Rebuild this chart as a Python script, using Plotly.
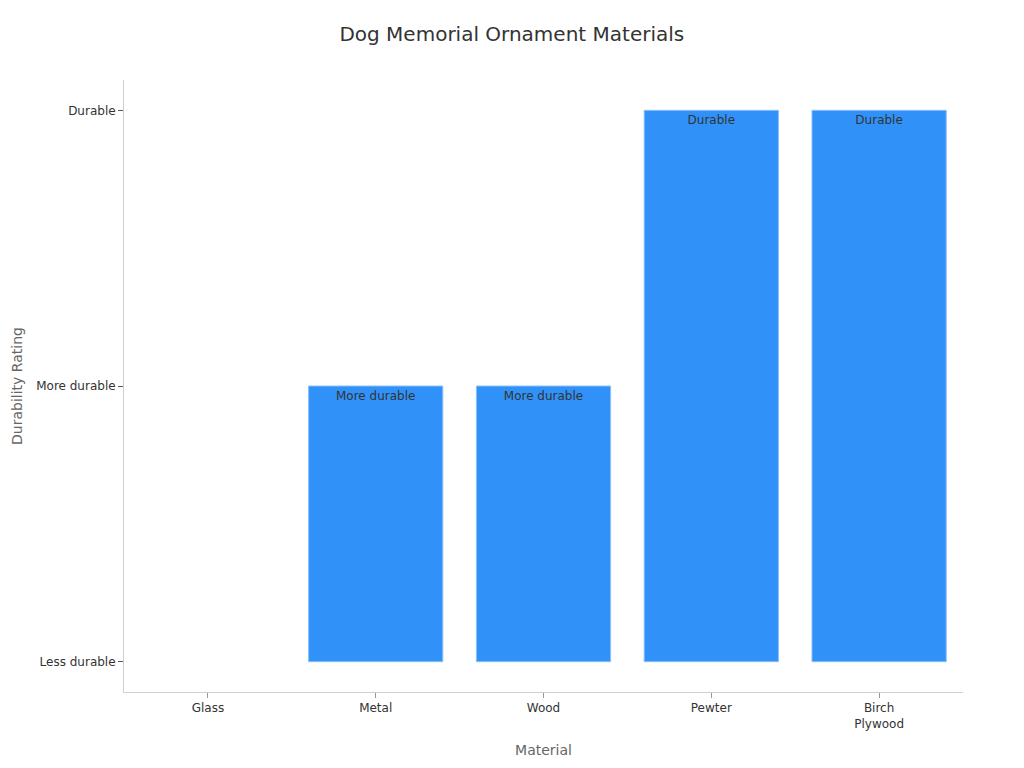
import plotly.graph_objects as go

materials = ["Glass", "Metal", "Wood", "Pewter", "Birch<br>Plywood"]
ratings = [0, 1, 1, 2, 2]
rating_labels = ["Less durable", "More durable", "More durable", "Durable", "Durable"]
tick_vals = [0, 1, 2]
tick_text = ["Less durable", "More durable", "Durable"]

bar_text = [t if v > 0 else "" for t, v in zip(rating_labels, ratings)]
line_widths = [1 if v > 0 else 0 for v in ratings]

fig = go.Figure(go.Bar(
    x=materials,
    y=ratings,
    base=0,
    text=bar_text,
    textposition="inside",
    insidetextanchor="end",
    textfont=dict(color="#333333", size=12),
    marker=dict(color="#3092F8", line=dict(color="#8cc0f7", width=line_widths)),
    width=0.8,
))

fig.update_layout(
    width=1024, height=768,
    template="plotly_white",
    font=dict(family="DejaVu Sans", color="#333333", size=12),
    title=dict(text="Dog Memorial Ornament Materials", x=0.492, xanchor="center", y=0.975,
               font=dict(size=20, color="#333333")),
    margin=dict(l=116, r=69, t=72, b=84),
    plot_bgcolor="white", paper_bgcolor="white",
    showlegend=False,
    xaxis=dict(
        title=dict(text="Material", font=dict(size=14, color="#666666"), standoff=15),
        showline=True, linecolor="#d0d0d0", linewidth=1, mirror=False,
        ticks="outside", tickcolor="#999999", ticklen=5, showgrid=False,
        tickfont=dict(size=12, color="#333333"), automargin=False,
    ),
    yaxis=dict(
        title=dict(text="Durability Rating", font=dict(size=14, color="#666666"), standoff=10),
        showline=True, linecolor="#d0d0d0", linewidth=1,
        ticks="outside", tickcolor="#555555", ticklen=5, showgrid=False,
        tickvals=tick_vals, ticktext=tick_text, range=[-0.11, 2.11],
        zeroline=False, tickfont=dict(size=12, color="#333333"), automargin=False,
    ),
)

fig.write_html("out.html")
